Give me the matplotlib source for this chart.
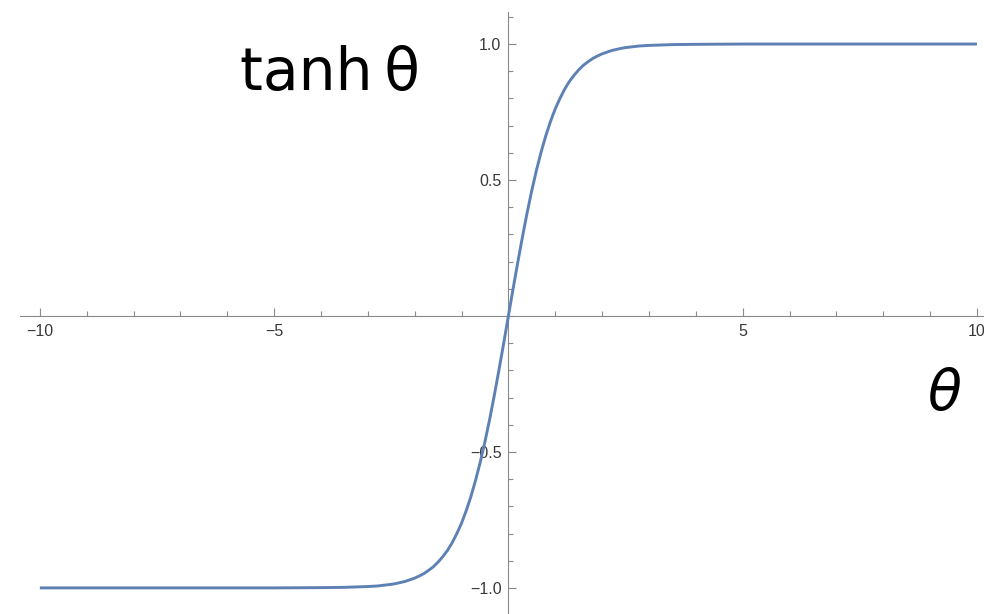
import matplotlib.pyplot as plt
from matplotlib.ticker import MultipleLocator, FixedLocator

theta = [-10.0, -5.0, -4.0, -3.5, -3.0, -2.8, -2.6, -2.5, -2.4, -2.3, -2.2,
         -2.1, -2.0, -1.9, -1.8, -1.7, -1.6, -1.5, -1.4, -1.3, -1.2, -1.1,
         -1.0, -0.9, -0.8, -0.7, -0.6, -0.5, -0.4, -0.3, -0.2, -0.1, 0.0,
         0.1, 0.2, 0.3, 0.4, 0.5, 0.6, 0.7, 0.8, 0.9, 1.0, 1.1, 1.2, 1.3,
         1.4, 1.5, 1.6, 1.7, 1.8, 1.9, 2.0, 2.1, 2.2, 2.3, 2.4, 2.5, 2.6,
         2.8, 3.0, 3.5, 4.0, 5.0, 10.0]
tanh_theta = [-1.0, -1.0, -0.999, -0.998, -0.995, -0.993, -0.989, -0.987,
              -0.984, -0.980, -0.976, -0.970, -0.964, -0.956, -0.947, -0.935,
              -0.922, -0.905, -0.885, -0.862, -0.834, -0.800, -0.762, -0.716,
              -0.664, -0.604, -0.537, -0.462, -0.380, -0.291, -0.197, -0.100,
              0.0,
              0.100, 0.197, 0.291, 0.380, 0.462, 0.537, 0.604, 0.664, 0.716,
              0.762, 0.800, 0.834, 0.862, 0.885, 0.905, 0.922, 0.935, 0.947,
              0.956, 0.964, 0.970, 0.976, 0.980, 0.984, 0.987, 0.989, 0.993,
              0.995, 0.998, 0.999, 1.0, 1.0]

x_labels = [-10, -5, 5, 10]
y_labels = [-1.0, -0.5, 0.5, 1.0]

line_color = "#5e81b5"
axis_color = "#8a8a8a"
label_color = "#3a3a3a"

fig = plt.figure(figsize=(9.84, 6.14), dpi=100)
ax = fig.add_axes([0, 0, 1, 1])
ax.set_xlim(-10.85, 10.15)
ax.set_ylim(-1.096, 1.162)

ax.plot(theta, tanh_theta, color=line_color, linewidth=2.1,
        solid_capstyle="butt", solid_joinstyle="round", zorder=3)

for side in ("top", "right"):
    ax.spines[side].set_visible(False)
for side in ("left", "bottom"):
    ax.spines[side].set_position(("data", 0))
    ax.spines[side].set_color(axis_color)
    ax.spines[side].set_linewidth(0.8)
ax.spines["bottom"].set_bounds(-10.43, 10.15)
ax.spines["left"].set_bounds(-1.096, 1.118)

ax.xaxis.set_major_locator(FixedLocator(x_labels))
ax.xaxis.set_minor_locator(MultipleLocator(1))
ax.yaxis.set_major_locator(FixedLocator(y_labels))
ax.yaxis.set_minor_locator(MultipleLocator(0.1))
ax.set_xticklabels(["\u221210", "\u22125", "5", "10"])
ax.set_yticklabels(["\u22121.0", "\u22120.5", "0.5", "1.0"])

ax.tick_params(which="major", direction="in", length=6, width=0.8,
               color=axis_color, labelcolor=label_color, labelsize=11.5,
               pad=5)
ax.tick_params(which="minor", direction="in", length=3.5, width=0.8,
               color=axis_color)
ax.tick_params(axis="x", which="both", pad=6)
for lbl in ax.get_xticklabels() + ax.get_yticklabels():
    lbl.set_fontfamily("Liberation Sans")
    lbl.set_zorder(4)

# hand-written style annotations, placed in figure pixels (origin bottom-left)
ax.text(240, 614 - 90, "tanh\u2009\u03b8", transform=None, fontsize=42,
        fontfamily="DejaVu Sans", color="black",
        ha="left", va="baseline")
ax.text(928, 614 - 410, "\u03b8", transform=None, fontsize=40,
        fontfamily="DejaVu Sans", fontstyle="italic", color="black",
        ha="left", va="baseline")

fig.savefig("out.png", dpi=100)
